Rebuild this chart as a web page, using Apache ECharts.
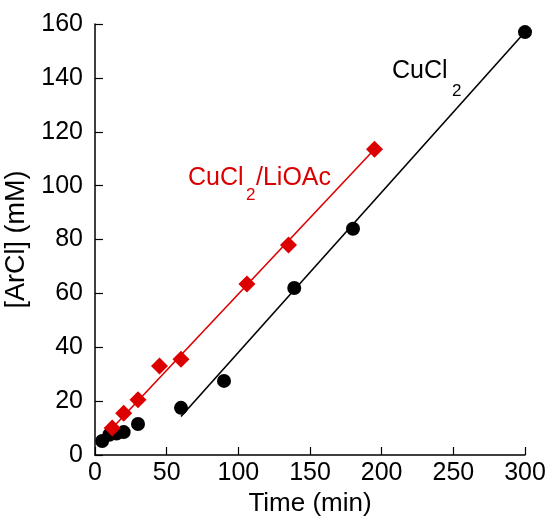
<!DOCTYPE html>
<html>
<head>
<meta charset="utf-8">
<script src="https://cdn.jsdelivr.net/npm/echarts@6/dist/echarts.min.js"></script>
<style>
  html, body { margin: 0; padding: 0; background: #fff; }
  #chart { width: 549px; height: 517px; }
</style>
</head>
<body>
<div id="chart"></div>
<script>
// CuCl2 alone: time (min) and [ArCl] (mM)
const cuclTimes = [5, 10, 15, 20, 30, 60, 90, 139, 180, 300];
const cuclValues = [5.2, 7.5, 8, 8.5, 11.5, 17.5, 27.5, 62, 84, 157];

// CuCl2 / LiOAc: time (min) and [ArCl] (mM)
const lioacTimes = [12, 20, 30, 45, 60, 106, 135, 195];
const lioacValues = [10, 15.5, 20.5, 33, 35.5, 63.5, 78, 113.5];

// Linear fit segments (endpoints)
const cuclFitX = [60, 300];
const cuclFitY = [14.3, 157];
const lioacFitX = [10, 195];
const lioacFitY = [8.8, 113.5];

const xTicks = { min: 0, max: 300, step: 50 };
const yTicks = { min: 0, max: 160, step: 20 };

const RED = '#dc0000';
const FONT = "'Liberation Sans', Arial, Helvetica, sans-serif";

const zip = (xs, ys) => xs.map((x, i) => [x, ys[i]]);

const chart = echarts.init(document.getElementById('chart'), null, { renderer: 'canvas' });

chart.setOption({
  animation: false,
  backgroundColor: '#fff',
  grid: {
    left: 95, right: 24, top: 24, bottom: 62,
    containLabel: false,
    outerBoundsMode: 'none'
  },
  xAxis: {
    type: 'value',
    min: xTicks.min, max: xTicks.max, interval: xTicks.step,
    name: 'Time (min)',
    nameLocation: 'middle',
    nameGap: 34,
    nameTextStyle: { color: '#000', fontSize: 26, fontFamily: FONT },
    axisLine: { show: true, lineStyle: { color: '#000', width: 1.5 } },
    axisTick: { show: true, inside: true, length: 8, lineStyle: { color: '#000', width: 1.2 } },
    axisLabel: { color: '#000', fontSize: 25, fontFamily: FONT, margin: 6 },
    splitLine: { show: false }
  },
  yAxis: {
    type: 'value',
    min: yTicks.min, max: yTicks.max, interval: yTicks.step,
    name: '[ArCl] (mM)',
    nameLocation: 'middle',
    nameRotate: 90,
    nameGap: 56,
    nameTextStyle: { color: '#000', fontSize: 27, fontFamily: FONT },
    axisLine: { show: true, lineStyle: { color: '#000', width: 1.5 } },
    axisTick: { show: true, inside: true, length: 8, lineStyle: { color: '#000', width: 1.2 } },
    axisLabel: { color: '#000', fontSize: 25, fontFamily: FONT, margin: 12 },
    splitLine: { show: false }
  },
  series: [
    {
      type: 'line',
      data: zip(cuclFitX, cuclFitY),
      showSymbol: false,
      lineStyle: { color: '#000', width: 1.6 },
      z: 1
    },
    {
      type: 'line',
      data: zip(lioacFitX, lioacFitY),
      showSymbol: false,
      lineStyle: { color: RED, width: 1.6 },
      z: 1
    },
    {
      type: 'scatter',
      data: zip(cuclTimes, cuclValues),
      symbol: 'circle',
      symbolSize: 14,
      itemStyle: { color: '#000', opacity: 1 },
      z: 3
    },
    {
      type: 'scatter',
      data: zip(lioacTimes, lioacValues),
      symbol: 'diamond',
      symbolSize: 17,
      itemStyle: { color: RED, opacity: 1 },
      z: 4
    }
  ],
  graphic: [
    { type: 'text', left: 392, top: 59, style: { text: 'CuCl', fill: '#000', font: '25px ' + FONT } },
    { type: 'text', left: 452, top: 83, style: { text: '2', fill: '#000', font: '17px ' + FONT } },
    { type: 'text', left: 188, top: 166, style: { text: 'CuCl', fill: RED, font: '25px ' + FONT } },
    { type: 'text', left: 246, top: 187, style: { text: '2', fill: RED, font: '17px ' + FONT } },
    { type: 'text', left: 256, top: 166, style: { text: '/LiOAc', fill: RED, font: '25px ' + FONT } }
  ]
});
</script>
</body>
</html>
